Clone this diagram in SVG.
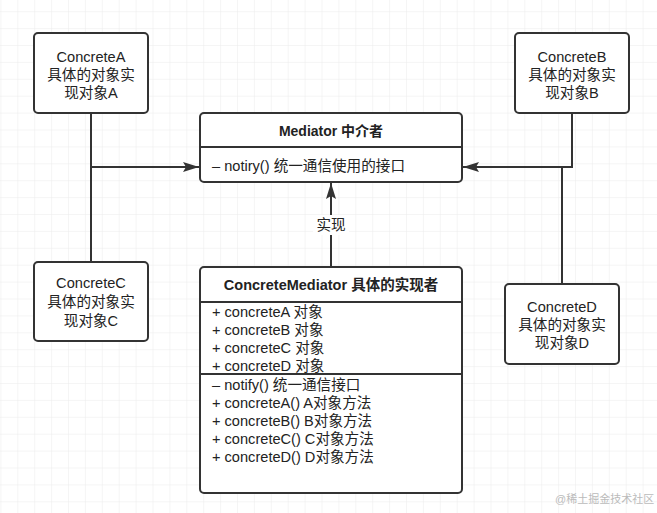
<svg xmlns="http://www.w3.org/2000/svg" width="657" height="513" viewBox="0 0 657 513">
<defs>
<pattern id="grid" x="0.4" y="11.2" width="16.9" height="16.9" patternUnits="userSpaceOnUse">
<path d="M 16.9 0 L 0 0 0 16.9" fill="none" stroke="#ebebeb" stroke-width="1"/>
</pattern>
<marker id="arr" viewBox="0 0 16 10" refX="16" refY="5" markerWidth="16" markerHeight="10" markerUnits="userSpaceOnUse" orient="auto">
<path d="M0,0 L16,5 L0,10 L3,5 Z" fill="#333"/>
</marker>
</defs>
<style>
.box{fill:#fff;stroke:#333;stroke-width:2}
.ln{fill:none;stroke:#333;stroke-width:2}
text{font-family:"Liberation Sans","Noto Sans CJK SC",sans-serif;fill:#222}
.c{font-size:14.6px;text-anchor:middle}
.m{font-size:14.6px}
.b{font-size:14px;font-weight:bold;text-anchor:middle}
.b2{font-size:14.5px;font-weight:bold;text-anchor:middle}
.wm{font-size:11px;fill:#bbb}
</style>
<rect width="657" height="513" fill="#fff"/>
<rect width="657" height="513" fill="url(#grid)"/>

<g id="connectors">
<path class="ln" d="M91,113 V262"/>
<path class="ln" d="M91,167 H199" marker-end="url(#arr)"/>
<path class="ln" d="M572,113 V167 H463" marker-end="url(#arr)"/>
<path class="ln" d="M562,167 V284"/>
<path class="ln" d="M331,267 V183" marker-end="url(#arr)"/>
<rect x="313" y="215" width="36" height="20" fill="#fff"/>
<text class="c" x="331" y="230">实现</text>
</g>

<g id="concreteA">
<rect class="box" x="34" y="33" width="114" height="80" rx="4"/>
<text class="c" x="91" y="62">ConcreteA</text>
<text class="c" x="91" y="80">具体的对象实</text>
<text class="c" x="91" y="98">现对象A</text>
</g>

<g id="concreteB">
<rect class="box" x="515" y="33" width="114" height="80" rx="4"/>
<text class="c" x="572" y="62">ConcreteB</text>
<text class="c" x="572" y="80">具体的对象实</text>
<text class="c" x="572" y="98">现对象B</text>
</g>

<g id="concreteC">
<rect class="box" x="34" y="262" width="114" height="79" rx="4"/>
<text class="c" x="91" y="288">ConcreteC</text>
<text class="c" x="91" y="307">具体的对象实</text>
<text class="c" x="91" y="326">现对象C</text>
</g>

<g id="concreteD">
<rect class="box" x="505" y="284" width="114" height="80" rx="4"/>
<text class="c" x="562" y="312">ConcreteD</text>
<text class="c" x="562" y="330">具体的对象实</text>
<text class="c" x="562" y="348">现对象D</text>
</g>

<g id="mediator">
<rect class="box" x="200" y="113" width="262" height="69" rx="4"/>
<path class="ln" d="M200,147 H462"/>
<text class="b" x="331" y="136">Mediator 中介者</text>
<text class="m" x="212" y="171">– notiry() 统一通信使用的接口</text>
</g>

<g id="concreteMediator">
<rect class="box" x="200" y="267" width="262" height="226" rx="4"/>
<path class="ln" d="M200,302 H462"/>
<path class="ln" d="M200,374 H462"/>
<text class="b2" x="331" y="290">ConcreteMediator 具体的实现者</text>
<text class="m" x="212" y="317">+ concreteA 对象</text>
<text class="m" x="212" y="335">+ concreteB 对象</text>
<text class="m" x="212" y="353">+ concreteC 对象</text>
<text class="m" x="212" y="371">+ concreteD 对象</text>
<text class="m" x="212" y="390">– notify() 统一通信接口</text>
<text class="m" x="212" y="408">+ concreteA() A对象方法</text>
<text class="m" x="212" y="426">+ concreteB() B对象方法</text>
<text class="m" x="212" y="444">+ concreteC() C对象方法</text>
<text class="m" x="212" y="462">+ concreteD() D对象方法</text>
</g>

<text class="wm" x="555" y="503">@稀土掘金技术社区</text>
</svg>
